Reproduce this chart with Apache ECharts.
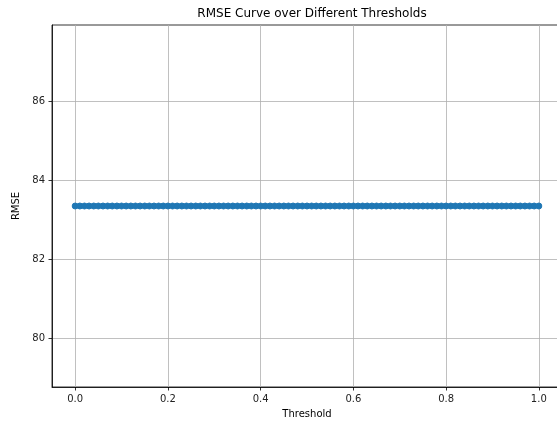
<!DOCTYPE html>
<html>
<head>
<meta charset="utf-8">
<script src="https://cdn.jsdelivr.net/npm/echarts@6/dist/echarts.min.js"></script>
<style>
  html, body { margin: 0; padding: 0; background: #fff; }
  #main { width: 557px; height: 421px; }
</style>
</head>
<body>
<div id="main"></div>
<script>
// thresholds on the x axis
var thresholds = [
    0.00, 0.01, 0.02, 0.03, 0.04, 0.05, 0.06, 0.07, 0.08, 0.09,
    0.10, 0.11, 0.12, 0.13, 0.14, 0.15, 0.16, 0.17, 0.18, 0.19,
    0.20, 0.21, 0.22, 0.23, 0.24, 0.25, 0.26, 0.27, 0.28, 0.29,
    0.30, 0.31, 0.32, 0.33, 0.34, 0.35, 0.36, 0.37, 0.38, 0.39,
    0.40, 0.41, 0.42, 0.43, 0.44, 0.45, 0.46, 0.47, 0.48, 0.49,
    0.50, 0.51, 0.52, 0.53, 0.54, 0.55, 0.56, 0.57, 0.58, 0.59,
    0.60, 0.61, 0.62, 0.63, 0.64, 0.65, 0.66, 0.67, 0.68, 0.69,
    0.70, 0.71, 0.72, 0.73, 0.74, 0.75, 0.76, 0.77, 0.78, 0.79,
    0.80, 0.81, 0.82, 0.83, 0.84, 0.85, 0.86, 0.87, 0.88, 0.89,
    0.90, 0.91, 0.92, 0.93, 0.94, 0.95, 0.96, 0.97, 0.98, 0.99,
    1.00
];
// rmse (flat)
var rmse = [
    83.35, 83.35, 83.35, 83.35, 83.35, 83.35, 83.35, 83.35, 83.35, 83.35,
    83.35, 83.35, 83.35, 83.35, 83.35, 83.35, 83.35, 83.35, 83.35, 83.35,
    83.35, 83.35, 83.35, 83.35, 83.35, 83.35, 83.35, 83.35, 83.35, 83.35,
    83.35, 83.35, 83.35, 83.35, 83.35, 83.35, 83.35, 83.35, 83.35, 83.35,
    83.35, 83.35, 83.35, 83.35, 83.35, 83.35, 83.35, 83.35, 83.35, 83.35,
    83.35, 83.35, 83.35, 83.35, 83.35, 83.35, 83.35, 83.35, 83.35, 83.35,
    83.35, 83.35, 83.35, 83.35, 83.35, 83.35, 83.35, 83.35, 83.35, 83.35,
    83.35, 83.35, 83.35, 83.35, 83.35, 83.35, 83.35, 83.35, 83.35, 83.35,
    83.35, 83.35, 83.35, 83.35, 83.35, 83.35, 83.35, 83.35, 83.35, 83.35,
    83.35, 83.35, 83.35, 83.35, 83.35, 83.35, 83.35, 83.35, 83.35, 83.35,
    83.35
];
var xTicks = [0, 0.2, 0.4, 0.6, 0.8, 1.0];
var yTicks = [80, 82, 84, 86];

var points = [];
for (var i = 0; i < thresholds.length; i++) {
    points.push([thresholds[i], rmse[i]]);
}

var font = 'DejaVu Sans';

echarts.init(document.getElementById('main')).setOption({
    animation: false,
    title: {
        text: 'RMSE Curve over Different Thresholds',
        left: 307,
        top: 3,
        textAlign: 'center',
        textStyle: { fontFamily: font, fontSize: 12, fontWeight: 'normal', color: '#000' }
    },
    grid: {
        left: 52,
        width: 510,
        top: 25,
        bottom: 34,
        show: true,
        borderColor: '#000',
        borderWidth: 0.8,
        containLabel: false,
        outerBoundsMode: 'none'
    },
    xAxis: {
        type: 'value',
        min: -0.05,
        max: 1.05,
        name: 'Threshold',
        nameLocation: 'middle',
        nameGap: 22,
        nameTextStyle: { fontFamily: font, fontSize: 10, color: '#000' },
        axisLine: { show: true, onZero: false, lineStyle: { color: '#000', width: 0.8 } },
        axisTick: { show: true, length: 3.5, customValues: xTicks, lineStyle: { color: '#000', width: 0.8 } },
        axisLabel: {
            customValues: xTicks,
            margin: 7,
            fontFamily: font, fontSize: 10, color: '#222',
            formatter: function (v) { return v.toFixed(1); }
        },
        splitLine: { show: true, lineStyle: { color: '#b0b0b0', width: 0.8 } }
    },
    yAxis: {
        type: 'value',
        min: 78.77,
        max: 87.93,
        name: 'RMSE',
        nameLocation: 'middle',
        nameGap: 28,
        nameTextStyle: { fontFamily: font, fontSize: 10, color: '#000' },
        axisLine: { show: true, onZero: false, lineStyle: { color: '#000', width: 0.8 } },
        axisTick: { show: true, length: 3.5, customValues: yTicks, lineStyle: { color: '#000', width: 0.8 } },
        axisLabel: {
            customValues: yTicks,
            margin: 7,
            fontFamily: font, fontSize: 10, color: '#222'
        },
        splitLine: { show: true, lineStyle: { color: '#b0b0b0', width: 0.8 } }
    },
    series: [
        {
            name: 'RMSE',
            type: 'line',
            data: points,
            symbol: 'circle',
            symbolSize: 6,
            showAllSymbol: true,
            lineStyle: { color: '#1f77b4', width: 1.5 },
            itemStyle: { color: '#1f77b4', borderColor: '#1f77b4', borderWidth: 1 }
        }
    ]
});
</script>
</body>
</html>
